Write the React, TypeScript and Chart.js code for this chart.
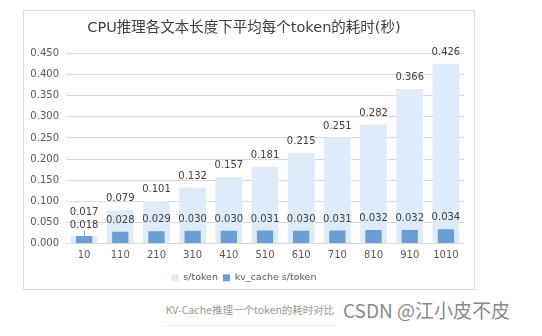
import React, { useEffect, useRef } from "react";
import { Chart, registerables } from "chart.js";

Chart.register(...registerables);

const categories = ["10", "110", "210", "310", "410", "510", "610", "710", "810", "910", "1010"];
const sPerToken = [0.017, 0.079, 0.101, 0.132, 0.157, 0.181, 0.215, 0.251, 0.282, 0.366, 0.426];
const kvCachePerToken = [0.018, 0.028, 0.029, 0.03, 0.03, 0.031, 0.03, 0.031, 0.032, 0.032, 0.034];
const seriesNames = ["s/token", "kv_cache s/token"];
const yMin = 0;
const yMax = 0.45;
const yStep = 0.05;
const titleText = "CPU推理各文本长度下平均每个token的耗时(秒)";
const captionText = "KV-Cache推理一个token的耗时对比";
const watermarkText = "CSDN @江小皮不皮";

const FONT = "'DejaVu Sans', 'Noto Sans CJK SC', sans-serif";
const LIGHT = "#deebf8";
const DARK = "#6a9fd5";

const valueLabels = {
  id: "valueLabels",
  afterDatasetsDraw(chart: any) {
    const ctx = chart.ctx;
    const m0 = chart.getDatasetMeta(0);
    const m1 = chart.getDatasetMeta(1);
    const d0 = chart.data.datasets[0].data as number[];
    const d1 = chart.data.datasets[1].data as number[];
    ctx.save();
    ctx.font = `10px ${FONT}`;
    ctx.fillStyle = "#404040";
    ctx.textAlign = "center";
    ctx.textBaseline = "middle";
    m0.data.forEach((b0: any, i: number) => {
      const b1 = m1.data[i];
      let y0 = b0.y - 11.5;
      let y1 = b1.y - 11.5;
      if (Math.abs(y0 - y1) < 12) {
        y1 = Math.min(b0.y, b1.y) - 10.5;
        y0 = y1 - 12.5;
        ctx.save();
        ctx.strokeStyle = "#a6a6a6";
        ctx.lineWidth = 1;
        ctx.beginPath();
        ctx.moveTo(Math.round(b1.x) + 0.5, y1 + 5);
        ctx.lineTo(Math.round(b1.x) + 0.5, b1.y);
        ctx.stroke();
        ctx.restore();
      }
      ctx.fillText(d0[i].toFixed(3), b0.x, y0);
      ctx.fillText(d1[i].toFixed(3), b1.x, y1);
    });
    ctx.restore();
  },
};

export default function App() {
  const ref = useRef<HTMLCanvasElement | null>(null);

  useEffect(() => {
    if (!ref.current) return;
    const chart = new Chart(ref.current, {
      type: "bar",
      data: {
        labels: categories,
        datasets: [
          {
            label: seriesNames[0],
            data: sPerToken,
            backgroundColor: LIGHT,
            barPercentage: 0.74,
            categoryPercentage: 1,
            order: 1,
          },
          {
            label: seriesNames[1],
            data: kvCachePerToken,
            backgroundColor: DARK,
            barPercentage: 0.45,
            categoryPercentage: 1,
            order: 0,
          },
        ],
      },
      options: {
        responsive: false,
        animation: false,
        layout: { padding: { left: 0, right: 10, top: 0, bottom: 3.5 } },
        plugins: {
          title: {
            display: true,
            text: titleText,
            color: "#404040",
            font: { family: FONT, size: 14.5, weight: "normal" },
            padding: { top: 8.2, bottom: 17 },
          },
          legend: {
            display: true,
            position: "bottom",
            labels: {
              boxWidth: 7,
              boxHeight: 7,
              padding: 5,
              color: "#595959",
              font: { family: FONT, size: 9.5 },
              sort: (a: any, b: any) => a.datasetIndex - b.datasetIndex,
            },
          },
          tooltip: { enabled: false },
        },
        scales: {
          x: {
            stacked: true,
            grid: { display: false, drawTicks: false },
            border: { display: false },
            ticks: {
              color: "#595959",
              font: { family: FONT, size: 10 },
              padding: 6,
              maxRotation: 0,
            },
            afterFit: (scale: any) => {
              scale.height += 0.5;
            },
          },
          y: {
            stacked: false,
            min: yMin,
            max: yMax,
            grid: { color: "#d9d9d9", drawTicks: false },
            border: { display: false },
            ticks: {
              stepSize: yStep,
              color: "#595959",
              font: { family: FONT, size: 10 },
              padding: 7,
              callback: (v: any) => Number(v).toFixed(3),
            },
            afterFit: (scale: any) => {
              scale.width = 42;
            },
          },
        },
      },
      plugins: [valueLabels],
    });
    return () => chart.destroy();
  }, []);

  return (
    <div
      style={{
        position: "absolute",
        left: 0,
        top: 0,
        width: 542,
        height: 336,
        background: "#fff",
        overflow: "hidden",
      }}
    >
      <canvas
        ref={ref}
        width={450}
        height={285}
        style={{ position: "absolute", left: 24, top: 11, width: 450, height: 285 }}
      />
      <div
        style={{
          position: "absolute",
          left: 23,
          top: 10,
          width: 452,
          height: 280,
          border: "1px solid #dcdcdc",
          boxSizing: "border-box",
          pointerEvents: "none",
        }}
      />
      <div
        style={{
          position: "absolute",
          left: 150,
          width: 200,
          top: 302,
          textAlign: "center",
          fontSize: 10.5,
          lineHeight: "16px",
          color: "#999",
          fontFamily: "'Noto Sans CJK SC', sans-serif",
          whiteSpace: "nowrap",
        }}
      >
        {captionText}
      </div>
      <div
        style={{
          position: "absolute",
          left: 163,
          top: 325,
          width: 172,
          height: 1,
          background: "#eeeeee",
        }}
      />
      <div
        style={{
          position: "absolute",
          left: 343,
          top: 298,
          fontSize: 19,
          lineHeight: "24px",
          color: "#8a8a8a",
          fontFamily: "'Noto Sans CJK SC', sans-serif",
          whiteSpace: "nowrap",
        }}
      >
        {watermarkText}
      </div>
    </div>
  );
}
